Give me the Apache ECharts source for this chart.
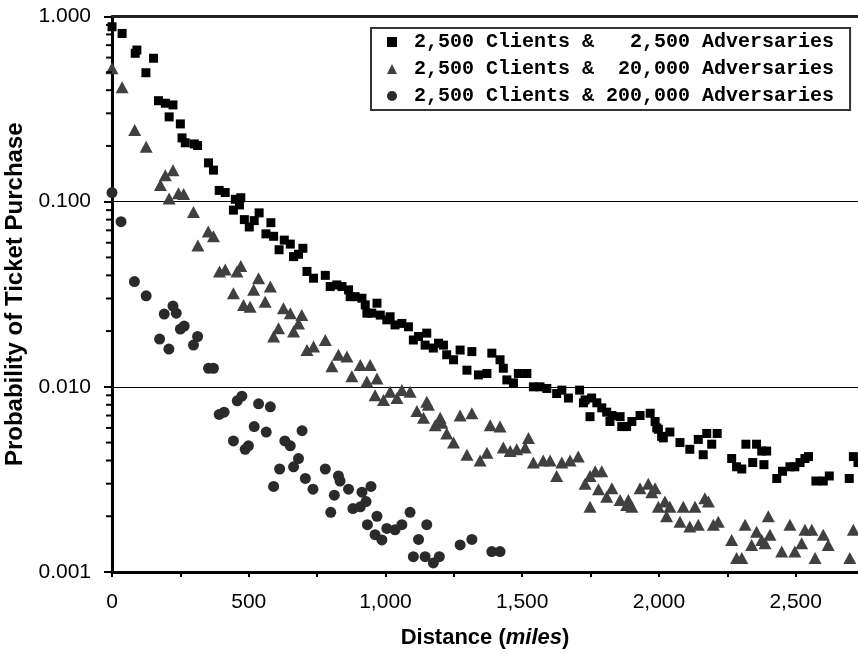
<!DOCTYPE html>
<html><head><meta charset="utf-8">
<script src="https://cdn.jsdelivr.net/npm/echarts@6/dist/echarts.min.js"></script>
<style>html,body{margin:0;padding:0;background:#fff}#c{width:858px;height:654px}</style>
</head><body><div id="c"></div>
<script>
const seriesNames = [
  '2,500 Clients &   2,500 Adversaries',
  '2,500 Clients &  20,000 Adversaries',
  '2,500 Clients & 200,000 Adversaries'
];
// [distance (miles), probability]
const squares = [[0,0.88],[37,0.81],[85,0.633],[91,0.659],[124,0.497],[152,0.595],[170,0.351],[195,0.340],[209,0.287],[223,0.333],[250,0.263],[256,0.221],[268,0.208],[301,0.205],[313,0.201],[353,0.162],[371,0.148],[392,0.115],[414,0.112],[444,0.090],[451,0.103],[466,0.096],[471,0.105],[484,0.080],[502,0.073],[520,0.079],[538,0.087],[563,0.067],[581,0.077],[591,0.065],[611,0.055],[630,0.062],[652,0.059],[664,0.0505],[682,0.052],[698,0.056],[713,0.042],[737,0.0386],[780,0.040],[798,0.0348],[822,0.0355],[841,0.0348],[865,0.0334],[871,0.0307],[889,0.0307],[914,0.0301],[926,0.0277],[932,0.025],[950,0.025],[969,0.0283],[981,0.0244],[1005,0.023],[1017,0.0239],[1035,0.0216],[1060,0.022],[1084,0.0211],[1102,0.0179],[1121,0.0187],[1145,0.0168],[1151,0.0195],[1175,0.0162],[1194,0.0172],[1212,0.0168],[1224,0.0149],[1249,0.014],[1273,0.0158],[1298,0.0123],[1316,0.0155],[1340,0.0116],[1371,0.0118],[1389,0.0152],[1419,0.0140],[1431,0.0126],[1444,0.0109],[1468,0.0105],[1486,0.0118],[1517,0.0118],[1541,0.0100],[1565,0.0100],[1590,0.0098],[1626,0.0092],[1645,0.0096],[1669,0.0087],[1710,0.0096],[1724,0.0082],[1730,0.0085],[1748,0.0069],[1754,0.0087],[1773,0.0082],[1791,0.0077],[1809,0.0073],[1821,0.0065],[1828,0.0070],[1858,0.0069],[1864,0.0061],[1882,0.0061],[1901,0.0065],[1931,0.0070],[1968,0.0072],[1986,0.0065],[1992,0.0060],[1998,0.0059],[2010,0.0054],[2016,0.0053],[2040,0.0057],[2077,0.0050],[2113,0.0046],[2144,0.0052],[2162,0.0043],[2175,0.0056],[2193,0.0049],[2213,0.0056],[2266,0.0041],[2284,0.0037],[2303,0.0036],[2318,0.0049],[2343,0.0039],[2357,0.0049],[2376,0.0045],[2384,0.0038],[2394,0.0045],[2431,0.0032],[2452,0.0035],[2479,0.0037],[2497,0.0037],[2516,0.0039],[2534,0.0041],[2547,0.0042],[2574,0.0031],[2601,0.0031],[2623,0.0033],[2696,0.0032],[2711,0.0042],[2728,0.0039]];
const triangles = [[0,0.525],[37,0.415],[83,0.244],[125,0.198],[177,0.123],[195,0.139],[209,0.104],[223,0.148],[243,0.111],[262,0.110],[298,0.088],[314,0.058],[352,0.069],[371,0.065],[393,0.042],[414,0.043],[444,0.032],[457,0.042],[471,0.045],[481,0.0277],[505,0.0271],[518,0.0334],[536,0.0386],[560,0.0288],[579,0.0348],[591,0.0187],[609,0.0207],[627,0.0266],[652,0.025],[664,0.0199],[682,0.022],[694,0.0244],[713,0.0158],[737,0.0165],[780,0.0179],[804,0.0129],[828,0.0149],[859,0.0146],[877,0.0114],[908,0.0131],[932,0.0107],[944,0.0131],[962,0.0090],[969,0.0111],[993,0.0085],[1017,0.0094],[1042,0.0087],[1060,0.0096],[1090,0.0094],[1115,0.0074],[1139,0.0068],[1151,0.0083],[1157,0.0080],[1182,0.0062],[1200,0.0068],[1206,0.0064],[1224,0.0056],[1249,0.0050],[1273,0.0070],[1298,0.0043],[1316,0.0072],[1346,0.0040],[1371,0.0044],[1383,0.0062],[1419,0.0061],[1431,0.0047],[1456,0.0045],[1480,0.0046],[1511,0.0047],[1523,0.0053],[1541,0.0039],[1577,0.0040],[1602,0.0040],[1626,0.0033],[1645,0.0039],[1675,0.0040],[1705,0.0042],[1730,0.0030],[1748,0.0033],[1748,0.00225],[1767,0.0035],[1779,0.0028],[1791,0.0035],[1809,0.00255],[1828,0.00283],[1858,0.00245],[1882,0.0023],[1888,0.00245],[1901,0.00225],[1931,0.00283],[1961,0.0030],[1974,0.0027],[1986,0.00283],[1998,0.00225],[2022,0.0024],[2028,0.0020],[2040,0.00225],[2077,0.00187],[2089,0.00225],[2113,0.00176],[2132,0.00225],[2144,0.0018],[2168,0.0025],[2181,0.0024],[2199,0.0018],[2217,0.00187],[2266,0.00149],[2284,0.00119],[2303,0.00119],[2315,0.0018],[2339,0.0014],[2357,0.00165],[2376,0.00149],[2388,0.00143],[2400,0.0020],[2406,0.00159],[2449,0.00129],[2479,0.0018],[2497,0.00129],[2522,0.00143],[2534,0.00169],[2559,0.00169],[2571,0.00119],[2601,0.00159],[2619,0.0014],[2698,0.00119],[2711,0.00169]];
const circles = [[0,0.112],[33,0.078],[82,0.037],[125,0.031],[174,0.0181],[191,0.0247],[208,0.016],[223,0.0273],[235,0.025],[250,0.0205],[264,0.0213],[298,0.0168],[313,0.0187],[353,0.0126],[371,0.0126],[392,0.0071],[410,0.0073],[444,0.0051],[458,0.0084],[475,0.0089],[487,0.0046],[499,0.0048],[520,0.0061],[536,0.0081],[564,0.0057],[579,0.0078],[591,0.0029],[613,0.0036],[632,0.0051],[652,0.0048],[664,0.0037],[682,0.0041],[695,0.0058],[707,0.0032],[735,0.0028],[780,0.0036],[800,0.0021],[813,0.0026],[828,0.0033],[834,0.0031],[865,0.0028],[881,0.0022],[908,0.00225],[914,0.0027],[929,0.0024],[934,0.0018],[947,0.0029],[962,0.00159],[969,0.0020],[987,0.00149],[1005,0.00172],[1035,0.00169],[1060,0.0018],[1090,0.0021],[1102,0.00121],[1121,0.0015],[1145,0.00121],[1151,0.0018],[1175,0.00112],[1197,0.00121],[1273,0.0014],[1316,0.0015],[1389,0.00129],[1419,0.00129]];
const xTicks = [0, 500, 1000, 1500, 2000, 2500];
const yMinorTicks = [0.002,0.003,0.004,0.005,0.006,0.007,0.008,0.009,0.02,0.03,0.04,0.05,0.06,0.07,0.08,0.09,0.2,0.3,0.4,0.5,0.6,0.7,0.8,0.9];

const SANS = '"Liberation Sans", Arial, Helvetica, sans-serif';
const MONO = '"Liberation Mono", "Courier New", monospace';
const X_MAX = 2728;

const chart = echarts.init(document.getElementById('c'), null, {renderer: 'canvas'});
chart.setOption({
  animation: false,
  backgroundColor: '#fff',
  grid: {left: 112, right: 0, top: 16.5, bottom: 82, containLabel: false, outerBoundsMode: 'none'},
  legend: {
    orient: 'vertical', left: 371, top: 28,
    padding: [4, 16, 4, 16],
    backgroundColor: '#fff', borderColor: '#333', borderWidth: 2, borderRadius: 0,
    itemWidth: 10, itemHeight: 10, itemGap: 7,
    textStyle: {fontFamily: MONO, fontWeight: 'bold', fontSize: 20, lineHeight: 20, color: '#000'},
    formatter: n => '\u00a0' + n.replace(/ /g, '\u00a0'),
    data: seriesNames
  },
  xAxis: [{
    type: 'value', min: 0, max: X_MAX, interval: 250,
    name: '{b|Distance (}{i|miles}{b|)}', nameLocation: 'middle', nameGap: 55,
    nameTextStyle: {rich: {
      b: {fontFamily: SANS, fontWeight: 'bold', fontSize: 22, color: '#000'},
      i: {fontFamily: SANS, fontWeight: 'bold', fontStyle: 'italic', fontSize: 22, color: '#000'}
    }},
    axisLine: {show: true, onZero: false, lineStyle: {color: '#000', width: 3}},
    axisTick: {show: true, length: 5, lineStyle: {color: '#000', width: 2}},
    axisLabel: {
      margin: 20, fontFamily: SANS, fontSize: 21, color: '#000', showMaxLabel: false,
      formatter: v => xTicks.indexOf(v) >= 0 ? v.toLocaleString('en-US') : ''
    },
    splitLine: {show: false}
  }, {
    type: 'value', position: 'top', min: 0, max: X_MAX,
    axisLine: {show: true, onZero: false, lineStyle: {color: '#222', width: 3}},
    axisTick: {show: false}, axisLabel: {show: false}, splitLine: {show: false}
  }],
  yAxis: {
    type: 'log', logBase: 10, min: 0.001, max: 1,
    name: 'Probability of Ticket Purchase', nameLocation: 'middle', nameGap: 82, nameRotate: 90,
    nameTextStyle: {fontFamily: SANS, fontWeight: 'bold', fontSize: 24, color: '#000'},
    axisLine: {show: true, onZero: false, lineStyle: {color: '#000', width: 3}},
    axisTick: {show: true, length: 8, lineStyle: {color: '#000', width: 2}},
    axisLabel: {margin: 21, fontFamily: SANS, fontSize: 21, color: '#000', formatter: v => v.toFixed(3)},
    splitLine: {show: true, lineStyle: {color: '#000', width: 1}}
  },
  series: [
    {name: seriesNames[1], type: 'scatter', data: triangles, symbol: 'triangle', symbolSize: [13, 12],
     itemStyle: {color: '#404040', opacity: 1}, z: 3},
    {name: seriesNames[2], type: 'scatter', data: circles, symbol: 'circle', symbolSize: 11,
     itemStyle: {color: '#2a2a2a', opacity: 1}, z: 3},
    {name: seriesNames[0], type: 'scatter', data: squares, symbol: 'rect', symbolSize: 9,
     itemStyle: {color: '#000', opacity: 1}, z: 4},
    {type: 'custom', silent: true, clip: false, z: 5,
     data: yMinorTicks.map(v => [0, v]),
     renderItem: (params, api) => {
       const p = api.coord([0, api.value(1)]);
       return {type: 'line', shape: {x1: p[0] - 6, y1: p[1], x2: p[0], y2: p[1]},
               style: {stroke: '#000', lineWidth: 2}};
     }}
  ]
});
</script></body></html>
